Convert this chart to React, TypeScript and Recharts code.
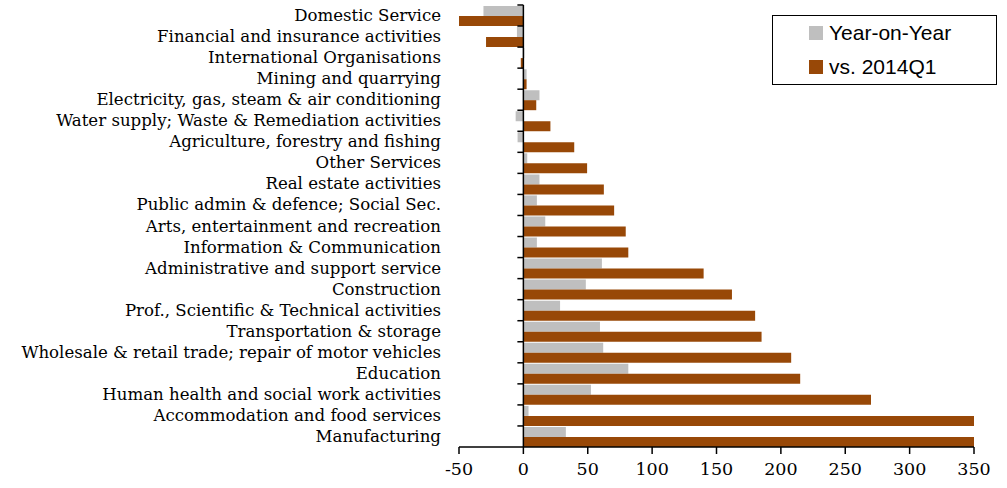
import React from 'react';
import { BarChart, Bar, XAxis, YAxis, ReferenceLine, Legend } from 'recharts';

const categories = [
  'Domestic Service',
  'Financial and insurance activities',
  'International Organisations',
  'Mining and quarrying',
  'Electricity, gas, steam & air conditioning',
  'Water supply; Waste & Remediation activities',
  'Agriculture, forestry and fishing',
  'Other Services',
  'Real estate activities',
  'Public admin & defence; Social Sec.',
  'Arts, entertainment and recreation',
  'Information & Communication',
  'Administrative and support service',
  'Construction',
  'Prof., Scientific & Technical activities',
  'Transportation & storage',
  'Wholesale & retail trade; repair of motor vehicles',
  'Education',
  'Human health and social work activities',
  'Accommodation and food services',
  'Manufacturing',
];

const yearOnYear = [-31, -5, 0.8, 2.5, 12.5, -6, -4.5, 3, 12.5, 10.5, 17, 10.5, 61, 48.5, 28.5, 59.5, 62, 81.5, 52.5, 4, 33];
const vs2014Q1 = [-50, -29, -2, 2.5, 10, 21, 39.5, 49.5, 62.5, 70.5, 79.5, 81.5, 140, 162, 180, 185, 208, 215, 270, 350, 350];

const xTicks = [-50, 0, 50, 100, 150, 200, 250, 300, 350];
const seriesNames = ['Year-on-Year', 'vs. 2014Q1'];
const seriesColors = ['#BFBFBF', '#984807'];

const data = categories.map((name, i) => ({ name, yoy: yearOnYear[i], base: vs2014Q1[i] }));

const CHART_W = 1007;
const CHART_H = 528;
const MARGIN = { top: 45, right: 33, bottom: 6, left: 0 };
const Y_AXIS_W = 459;
const X_AXIS_H = 35;
const X_MIN = -50;
const X_MAX = 350;
const PLOT_W = CHART_W - MARGIN.left - MARGIN.right - Y_AXIS_W;
const PLOT_H = CHART_H - MARGIN.top - MARGIN.bottom - X_AXIS_H;
const PLOT_LEFT = MARGIN.left + Y_AXIS_W;

const SERIF = '"DejaVu Serif", serif';

const CategoryTick = (props: any) => {
  const { x, y, payload } = props;
  const zeroX = PLOT_LEFT + ((0 - X_MIN) / (X_MAX - X_MIN)) * PLOT_W;
  const band = PLOT_H / categories.length;
  return (
    <g>
      <text
        x={x}
        y={y}
        textAnchor="end"
        dominantBaseline="central"
        fontFamily={SERIF}
        fontSize={16.6}
        fill="#000"
      >
        {payload.value}
      </text>
      <line x1={zeroX - 6} x2={zeroX} y1={y - band / 2} y2={y - band / 2} stroke="#000" strokeWidth={1.5} />
    </g>
  );
};

const LegendBox = () => (
  <div
    style={{
      width: 225,
      height: 70,
      boxSizing: 'border-box',
      border: '1.5px solid #000',
      background: '#fff',
      fontFamily: '"Liberation Sans", Arial, sans-serif',
      fontSize: 21,
      color: '#000',
    }}
  >
    {seriesNames.map((n, i) => (
      <div key={n} style={{ display: 'flex', alignItems: 'center', height: 34, paddingLeft: 36 }}>
        <span style={{ display: 'inline-block', width: 14, height: 14, background: seriesColors[i], marginRight: 6 }} />
        <span>{n}</span>
      </div>
    ))}
  </div>
);

export default function App() {
  return (
    <div style={{ position: 'absolute', left: 0, top: -40, width: CHART_W, height: CHART_H }}>
      <BarChart
        width={CHART_W}
        height={CHART_H}
        data={data}
        layout="vertical"
        margin={MARGIN}
        barCategoryGap={1}
        barGap={0}
      >
        <XAxis
          type="number"
          domain={[X_MIN, X_MAX]}
          ticks={xTicks}
          interval={0}
          height={X_AXIS_H}
          axisLine={{ stroke: '#000', strokeWidth: 1.5 }}
          tickLine={{ stroke: '#000', strokeWidth: 1.5 }}
          tickSize={7}
          tickMargin={9}
          tick={{ fontFamily: SERIF, fontSize: 17.5, fill: '#000' }}
        />
        <YAxis
          type="category"
          dataKey="name"
          width={Y_AXIS_W}
          axisLine={false}
          tickLine={false}
          tickSize={0}
          tickMargin={18}
          interval={0}
          tick={<CategoryTick />}
        />
        <Legend
          layout="horizontal"
          verticalAlign="middle"
          align="center"
          wrapperStyle={{ position: 'absolute', left: 772, top: 55, width: 225, height: 70 }}
          content={() => <LegendBox />}
        />
        <Bar dataKey="yoy" name={seriesNames[0]} fill={seriesColors[0]} isAnimationActive={false} />
        <Bar dataKey="base" name={seriesNames[1]} fill={seriesColors[1]} isAnimationActive={false} />
        <ReferenceLine x={0} stroke="#000" strokeWidth={1.5} />
      </BarChart>
    </div>
  );
}
